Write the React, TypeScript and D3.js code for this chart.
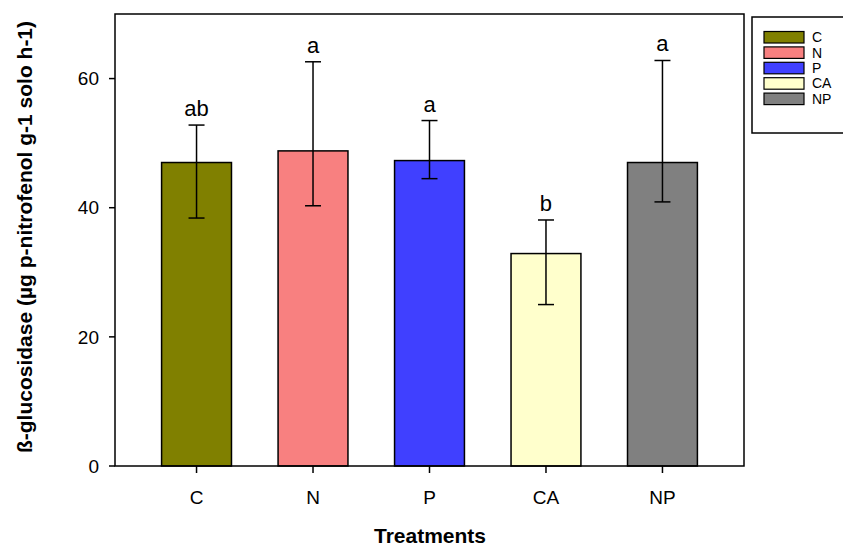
import React from "react";
import * as d3 from "d3";

const categories = ["C", "N", "P", "CA", "NP"];
const means = [47.0, 48.8, 47.3, 32.9, 47.0];
const upper = [52.8, 62.6, 53.5, 38.1, 62.8];
const lower = [38.4, 40.3, 44.5, 25.0, 40.9];
const letters = ["ab", "a", "a", "b", "a"];
const colors = ["#808000", "#F88080", "#4040FF", "#FFFFCC", "#808080"];
const yTicks = [0, 20, 40, 60];

const W = 843;
const H = 546;
const m = { left: 115, right: 744, top: 14, bottom: 466 };
const font = "Arial, 'Liberation Sans', sans-serif";

export default function App() {
  const x = d3.scaleLinear().domain([0.3, categories.length + 0.7]).range([m.left, m.right]);
  const y = d3.scaleLinear().domain([0, 70]).range([m.bottom, m.top]);
  const bw = x(1.6) - x(1);
  const capW = 16;
  const legendY0 = 31.5;
  const legendStep = 15.4;

  return (
    <svg width={W} height={H} style={{ position: "absolute", left: 0, top: 0 }} fontFamily={font}>
      <rect x={0} y={0} width={W} height={H} fill="#fff" />
      {categories.map((c, i) => {
        const cx = x(i + 1);
        return (
          <g key={c}>
            <rect x={cx - bw / 2} y={y(means[i])} width={bw} height={y(0) - y(means[i])} fill={colors[i]} stroke="#000" strokeWidth={1.5} />
            <line x1={cx} x2={cx} y1={y(upper[i])} y2={y(lower[i])} stroke="#000" strokeWidth={1.5} />
            <line x1={cx - capW / 2} x2={cx + capW / 2} y1={y(upper[i])} y2={y(upper[i])} stroke="#000" strokeWidth={1.5} />
            <line x1={cx - capW / 2} x2={cx + capW / 2} y1={y(lower[i])} y2={y(lower[i])} stroke="#000" strokeWidth={1.5} />
            <text x={cx} y={y(upper[i]) - 9} textAnchor="middle" fontSize={22}>{letters[i]}</text>
            <line x1={cx} x2={cx} y1={m.bottom} y2={m.bottom + 7} stroke="#000" strokeWidth={1.5} />
            <text x={cx} y={504} textAnchor="middle" fontSize={19}>{c}</text>
          </g>
        );
      })}
      <rect x={m.left} y={m.top} width={m.right - m.left} height={m.bottom - m.top} fill="none" stroke="#000" strokeWidth={1.5} />
      {yTicks.map((t) => (
        <g key={t}>
          <line x1={m.left - 6} x2={m.left} y1={y(t)} y2={y(t)} stroke="#000" strokeWidth={1.5} />
          <text x={99} y={y(t)} dy="0.35em" textAnchor="end" fontSize={19}>{t}</text>
        </g>
      ))}
      <text x={430} y={543} textAnchor="middle" fontSize={21} fontWeight="bold">Treatments</text>
      <text transform={`translate(32,237) rotate(-90)`} textAnchor="middle" fontSize={21} fontWeight="bold">
        ß-glucosidase (µg p-nitrofenol g-1 solo h-1)
      </text>
      <rect x={752} y={17} width={100} height={116} fill="#fff" stroke="#000" strokeWidth={1.5} />
      {categories.map((c, i) => (
        <g key={"lg" + c}>
          <rect x={764} y={legendY0 + i * legendStep} width={40} height={11.5} fill={colors[i]} stroke="#000" strokeWidth={1.2} />
          <text x={812} y={legendY0 + i * legendStep + 5.8} dy="0.35em" fontSize={14}>{c}</text>
        </g>
      ))}
    </svg>
  );
}
